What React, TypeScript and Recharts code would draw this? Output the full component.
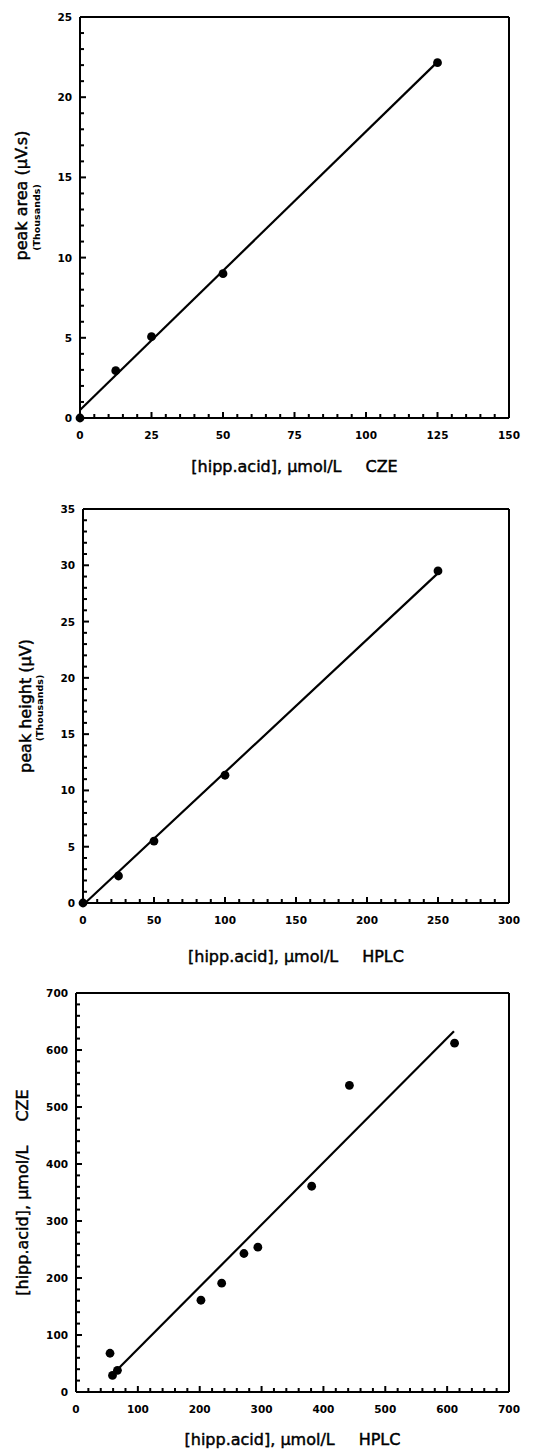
import { ScatterChart, Scatter, XAxis, YAxis, ReferenceLine } from "recharts";

// panel 1: CZE calibration, peak area
const areaConc = [0, 12.5, 25, 50, 125];
const areaValues = [0, 2.95, 5.07, 9.0, 22.15];
const areaFitX = [0, 125];
const areaFitY = [0.5, 22.2];
const areaXTicks = [0, 25, 50, 75, 100, 125, 150];
const areaYTicks = [0, 5, 10, 15, 20, 25];

// panel 2: HPLC calibration, peak height
const heightConc = [0, 25, 50, 100, 250];
const heightValues = [0, 2.4, 5.5, 11.35, 29.5];
const heightFitX = [1.5, 250];
const heightFitY = [0, 29.3];
const heightXTicks = [0, 50, 100, 150, 200, 250, 300];
const heightYTicks = [0, 5, 10, 15, 20, 25, 30, 35];

// panel 3: CZE vs HPLC
const hplcValues = [55, 59, 67, 202, 235.5, 271.5, 294, 381, 442, 612];
const czeValues = [68, 29, 38, 161, 191, 243, 254, 361, 538, 612];
const compFitX = [63, 611];
const compFitY = [35, 633];
const compTicks = [0, 100, 200, 300, 400, 500, 600, 700];

const FONT = "'DejaVu Sans', sans-serif";

const zip = (xs: number[], ys: number[]) => xs.map((x, i) => ({ x, y: ys[i] }));

const withMinor = (majors: number[], step: number) => {
  const out: number[] = [];
  const max = majors[majors.length - 1];
  for (let v = majors[0]; v <= max; v += step) out.push(v);
  return out;
};

// inward tick marks, labels only on the majors
const xTick = (majors: number[]) => (props: any) => {
  const x = Number(props.x);
  const y = Number(props.y);
  const v = props.payload.value;
  const major = majors.includes(v);
  return (
    <g>
      <path d={`M${x},${y}L${x},${y - (major ? 6 : 4)}`} stroke="#000" strokeWidth={2} />
      {major && (
        <text x={x} y={y + 21} textAnchor="middle" fontFamily={FONT} fontWeight="bold" fontSize={10.5} fill="#000">
          {v}
        </text>
      )}
    </g>
  );
};

const yTick = (majors: number[]) => (props: any) => {
  const x = Number(props.x);
  const y = Number(props.y);
  const v = props.payload.value;
  const major = majors.includes(v);
  return (
    <g>
      <path d={`M${x},${y}L${x + (major ? 6 : 4)},${y}`} stroke="#000" strokeWidth={2} />
      {major && (
        <text x={x - 8} y={y + 4} textAnchor="end" fontFamily={FONT} fontWeight="bold" fontSize={10.5} fill="#000">
          {v}
        </text>
      )}
    </g>
  );
};

const titleStyle = { fontFamily: FONT, fontSize: 16, fill: "#000", stroke: "#000", strokeWidth: 0.45 };

const xTitle = (main: string, tag: string, dy: number) => (props: any) => {
  const vb = props.viewBox;
  return (
    <text x={vb.x + vb.width / 2} y={vb.y + dy} textAnchor="middle" style={titleStyle}>
      {main}
      <tspan dx={24}>{tag}</tspan>
    </text>
  );
};

const yTitle = (main: string, tag: string | null, cx: number, dy: number, sub?: string, subCx?: number, subDy?: number) => (props: any) => {
  const vb = props.viewBox;
  const cy = vb.y + vb.height / 2 + dy;
  const sy = vb.y + vb.height / 2 + (subDy ?? 0);
  return (
    <g>
      <text x={cx} y={cy} transform={`rotate(-90, ${cx}, ${cy})`} textAnchor="middle" dominantBaseline="central" style={titleStyle}>
        {main}
        {tag && <tspan dx={24}>{tag}</tspan>}
      </text>
      {sub && (
        <text
          x={subCx}
          y={sy}
          transform={`rotate(-90, ${subCx}, ${sy})`}
          textAnchor="middle"
          dominantBaseline="central"
          fontFamily={FONT}
          fontWeight="bold"
          fontSize={9.5}
          fill="#000"
        >
          {sub}
        </text>
      )}
    </g>
  );
};

const dot = (p: any) => <circle cx={p.cx} cy={p.cy} r={4.4} fill="#000" />;
const noDot = () => <g />;

interface PanelProps {
  top: number;
  height: number;
  margin: { top: number; right: number; bottom: number; left: number };
  yWidth: number;
  xHeight: number;
  xDomain: [number, number];
  yDomain: [number, number];
  xMajors: number[];
  yMajors: number[];
  xStep: number;
  yStep: number;
  points: { x: number; y: number }[];
  fit: { x: number; y: number }[];
  xLabel: (p: any) => any;
  yLabel: (p: any) => any;
}

function Panel(p: PanelProps) {
  const frame = { stroke: "#000", strokeWidth: 2 };
  return (
    <div style={{ position: "absolute", left: 0, top: p.top }}>
      <ScatterChart width={544} height={p.height} margin={p.margin}>
        <XAxis
          type="number"
          dataKey="x"
          domain={p.xDomain}
          ticks={withMinor(p.xMajors, p.xStep)}
          interval={0}
          tickSize={0}
          tickMargin={0}
          tickLine={false}
          tick={xTick(p.xMajors)}
          height={p.xHeight}
          axisLine={frame}
          label={p.xLabel}
        />
        <YAxis
          type="number"
          dataKey="y"
          domain={p.yDomain}
          ticks={withMinor(p.yMajors, p.yStep)}
          interval={0}
          tickSize={0}
          tickMargin={0}
          tickLine={false}
          tick={yTick(p.yMajors)}
          width={p.yWidth}
          axisLine={frame}
          label={p.yLabel}
        />
        {/* plain top and right edges of the box */}
        <ReferenceLine y={p.yDomain[1]} stroke="#000" strokeWidth={2} />
        <ReferenceLine x={p.xDomain[1]} stroke="#000" strokeWidth={2} />
        <Scatter data={p.fit} line={{ stroke: "#000", strokeWidth: 2.2 }} shape={noDot} isAnimationActive={false} />
        <Scatter data={p.points} shape={dot} isAnimationActive={false} />
      </ScatterChart>
    </div>
  );
}

export default function App() {
  return (
    <div style={{ position: "absolute", left: 0, top: 0, width: 544, height: 1453, background: "#fff" }}>
      <Panel
        top={0}
        height={480}
        margin={{ top: 17, right: 35, bottom: 0, left: 0 }}
        yWidth={80}
        xHeight={62}
        xDomain={[0, 150]}
        yDomain={[0, 25]}
        xMajors={areaXTicks}
        yMajors={areaYTicks}
        xStep={5}
        yStep={1}
        points={zip(areaConc, areaValues)}
        fit={zip(areaFitX, areaFitY)}
        xLabel={xTitle("[hipp.acid], \u03bcmol/L", "CZE", 54)}
        yLabel={yTitle("peak  area (\u03bcV.s)", null, 21, -22, "(Thousands)", 36, 0)}
      />
      <Panel
        top={480}
        height={492}
        margin={{ top: 29, right: 35, bottom: 0, left: 0 }}
        yWidth={83}
        xHeight={69}
        xDomain={[0, 300]}
        yDomain={[0, 35]}
        xMajors={heightXTicks}
        yMajors={heightYTicks}
        xStep={10}
        yStep={1}
        points={zip(heightConc, heightValues)}
        fit={zip(heightFitX, heightFitY)}
        xLabel={xTitle("[hipp.acid], \u03bcmol/L", "HPLC", 59)}
        yLabel={yTitle("peak  height  (\u03bcV)", null, 25, 0, "(Thousands)", 39, 2)}
      />
      <Panel
        top={960}
        height={493}
        margin={{ top: 33, right: 35, bottom: 0, left: 0 }}
        yWidth={76}
        xHeight={61}
        xDomain={[0, 700]}
        yDomain={[0, 700]}
        xMajors={compTicks}
        yMajors={compTicks}
        xStep={20}
        yStep={20}
        points={zip(hplcValues, czeValues)}
        fit={zip(compFitX, compFitY)}
        xLabel={xTitle("[hipp.acid], \u03bcmol/L", "HPLC", 53)}
        yLabel={yTitle("[hipp.acid], \u03bcmol/L", "CZE", 22, 0)}
      />
    </div>
  );
}
